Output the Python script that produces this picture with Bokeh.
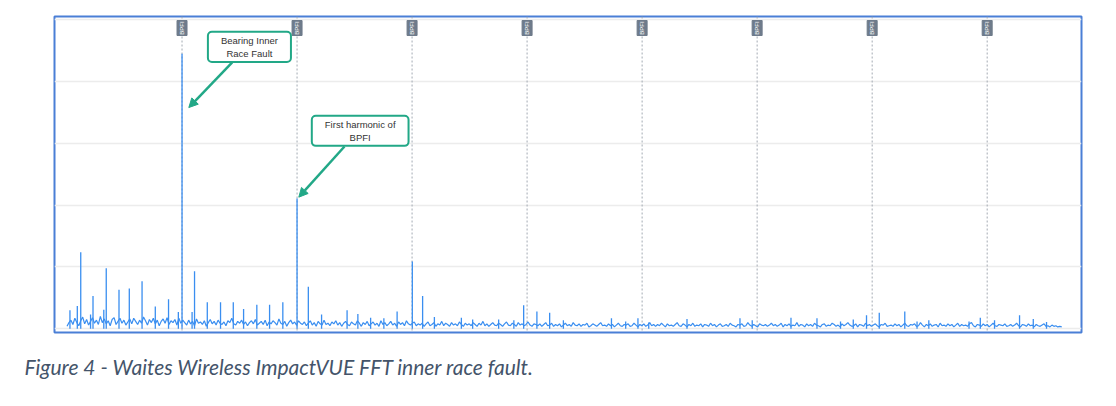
import numpy as np
from bokeh.plotting import figure
from bokeh.models import (Range1d, Grid, FixedTicker, Span, Label, Arrow,
                          NormalHead, Title)
from bokeh.embed import file_html
from bokeh.resources import INLINE

# ---------------- data ----------------
BPFI_HZ = 234.5
harmonic_orders = [1, 2, 3, 4, 5, 6, 7, 8]
marker_label = "BPFI"

noise_step_hz = 4
# noise floor, hundredths of a unit, every 4 Hz
noise_0 = [4, 10, 14, 7, 17, 10, 5, 13, 19, 8, 15, 6, 12, 18, 9, 14, 7, 20, 10, 16, 8, 13, 5, 15, 18, 7, 12, 17, 9, 14,
           6, 11, 16, 8, 17, 12, 7, 14, 9, 19, 13, 6, 15, 10, 17, 8, 14, 5, 12, 16, 9, 18, 7, 13, 10, 15, 6, 17, 9, 14]
noise_1 = [10, 6, 14, 8, 12, 5, 16, 9, 11, 7, 13, 4, 10, 15, 8, 12, 6, 14, 9, 7, 11, 5, 13, 10, 17, 8, 6, 12, 9, 14,
           7, 11, 5, 10, 13, 8, 15, 6, 9, 12, 7, 14, 5, 11, 8, 13, 10, 6, 16, 9, 7, 12, 4, 10, 14, 8, 11, 6, 13, 9]
noise_2 = [7, 11, 5, 9, 13, 6, 10, 4, 12, 8, 6, 14, 7, 9, 5, 11, 8, 13, 6, 10, 4, 9, 12, 7, 5, 11, 8, 6, 13, 9,
           4, 10, 7, 12, 5, 8, 11, 6, 9, 4, 13, 7, 10, 5, 8, 12, 6, 9, 4, 11, 7, 10, 5, 13, 8, 6, 9, 11, 5, 8]
noise_3 = [6, 9, 4, 8, 11, 5, 7, 10, 4, 8, 6, 12, 5, 9, 7, 4, 10, 6, 8, 5, 11, 7, 4, 9, 6, 8, 5, 10, 7, 4,
           9, 6, 12, 5, 8, 4, 7, 10, 6, 5, 9, 7, 4, 8, 11, 6, 5, 9, 7, 4, 10, 6, 8, 5, 7, 11, 6, 4, 8, 7]
noise_4 = [5, 8, 4, 7, 10, 5, 6, 9, 4, 7, 5, 8, 3, 6, 9, 5, 7, 4, 10, 6, 5, 8, 4, 7, 6, 9, 3, 5, 8, 6,
           4, 7, 10, 5, 6, 4, 8, 5, 7, 3, 6, 9, 5, 4, 7, 6, 8, 4, 5, 9, 6, 3, 7, 5, 8, 4, 6, 10, 5, 7]
noise_5 = [4, 7, 5, 9, 6, 3, 8, 5, 6, 4, 7, 10, 5, 4, 8, 6, 3, 7, 5, 9, 4, 6, 5, 8, 3, 7, 6, 4, 9, 5,
           7, 3, 6, 8, 4, 5, 7, 4, 9, 6, 5, 3, 7, 6, 8, 4, 5, 10, 6, 4, 7, 5, 3, 8, 6, 5, 7, 4, 6, 9]
noise_6 = [5, 7, 4, 6, 9, 3, 7, 5, 8, 4, 6, 5, 10, 4, 7, 6, 3, 8, 5, 7, 4, 9, 6, 5, 3, 7, 8, 4, 6, 5,
           9, 7, 4, 6, 3, 8, 5, 7, 10, 6, 4, 5, 8, 3, 7, 6, 4, 9, 5, 7, 4, 6, 8, 5, 3, 7, 6, 9, 4, 5]
noise_7 = [6, 4, 8, 5, 7, 3, 6, 9, 5, 4, 7, 6, 8, 4, 5, 10, 6, 3, 7, 5, 8, 4, 6, 7, 3, 9, 5, 6, 4, 8,
           5, 7, 3, 6, 9, 4, 7, 5, 6, 4, 8, 10, 5, 3, 7, 6, 4, 8, 5, 7, 3, 6, 9, 5, 4, 7, 6, 5, 8, 4]
noise_8 = [5, 7, 4, 6, 9, 5, 3, 7, 6, 4, 8, 5, 6, 3, 7, 5, 4, 6, 8, 4, 5, 3, 6, 4, 5, 3, 4, 3]

peak_freqs = [6, 21, 28, 48, 53, 75, 80, 106, 127, 153, 180, 207, 227, 234.5, 255,
              260, 286, 313, 339, 360, 387, 413, 440, 469, 492, 519, 571, 593, 619, 646,
              673, 704, 725, 749, 804, 827, 880, 911, 931, 958, 984, 1012, 1110, 1139, 1164,
              1186, 1264, 1372, 1397, 1476, 1529, 1577, 1603, 1630, 1656, 1708, 1733, 1757,
              1839, 1862, 1891, 1942, 1970, 1997]
peak_amps = [0.30, 0.37, 1.24, 0.23, 0.53, 0.31, 0.98, 0.63, 0.65, 0.77, 0.36, 0.48, 0.27, 4.45, 0.27,
             0.93, 0.43, 0.43, 0.43, 0.32, 0.39, 0.39, 0.43, 2.11, 0.68, 0.23, 0.30, 0.24, 0.18, 0.17,
             0.28, 1.09, 0.53, 0.19, 0.18, 0.15, 0.15, 0.14, 0.38, 0.28, 0.26, 0.14, 0.17, 0.12, 0.17,
             0.10, 0.16, 0.17, 0.14, 0.18, 0.17, 0.12, 0.15, 0.22, 0.26, 0.28, 0.12, 0.14,
             0.12, 0.18, 0.14, 0.22, 0.16, 0.11]

grid_levels = [0, 1, 2, 3, 4, 5]

note1_text = "Bearing Inner\nRace Fault"
note2_text = "First harmonic of\nBPFI"
caption = "Figure 4 - Waites Wireless ImpactVUE FFT inner race fault."

# ---------------- build ----------------
noise = np.array(noise_0 + noise_1 + noise_2 + noise_3 + noise_4 + noise_5 + noise_6 + noise_7 + noise_8) / 100.0
noise_x = np.arange(len(noise)) * noise_step_hz

SPEC = "#3a8ef0"
TEAL = "#22a887"
X0, X1 = -25.5, 2068.3
Y0, Y1 = -0.06, 5.053
FW, FH = 1027, 316

p = figure(frame_width=FW, frame_height=FH, min_border_left=54, min_border_right=19,
           min_border_top=16, min_border_bottom=70,
           x_range=Range1d(X0, X1), y_range=Range1d(Y0, Y1),
           x_axis_type=None, y_axis_type=None,
           output_backend="svg", toolbar_location=None,
           background_fill_color="white", border_fill_color="white")
p.outline_line_color = "#4a7fd6"
p.outline_line_width = 2

grid = Grid(dimension=1, ticker=FixedTicker(ticks=grid_levels),
            grid_line_color="#ececec", grid_line_width=1.5)
p.add_layout(grid)

for k in harmonic_orders:
    p.add_layout(Span(location=k * BPFI_HZ, dimension="height", line_color="#a3aab3",
                      line_dash="2 2", line_width=1, level="underlay"))

p.line(noise_x, noise, line_color=SPEC, line_width=1.2)
p.segment(x0=peak_freqs, y0=[0] * len(peak_freqs), x1=peak_freqs, y1=peak_amps,
          line_color=SPEC, line_width=1.3)

# marker tags at the top
px_per_unit = FH / (Y1 - Y0)
tag_y = Y1 - 11.5 / px_per_unit
mx = [k * BPFI_HZ for k in harmonic_orders]
p.rect(x=mx, y=[tag_y] * len(mx), width=10, height=15, width_units="screen",
       height_units="screen", fill_color="#6e7b8b", line_color="#6e7b8b")
p.text(x=mx, y=[tag_y] * len(mx), text=[marker_label] * len(mx), angle=np.pi / 2,
       text_align="center", text_baseline="middle", text_font_size="6px",
       text_color="white")

# callouts
for (tx, ty, txt, sx, sy, ex, ey) in [
        (371.9, 4.563, note1_text, 336.8, 4.31, 248.3, 3.58),
        (597.7, 3.204, note2_text, 565.7, 2.95, 472.6, 2.13)]:
    p.add_layout(Arrow(end=NormalHead(size=9, fill_color=TEAL, line_color=TEAL),
                       x_start=sx, y_start=sy, x_end=ex, y_end=ey,
                       line_color=TEAL, line_width=2.5))
    p.add_layout(Label(x=tx, y=ty, text=txt, text_align="center", text_baseline="middle",
                       text_font="Liberation Sans", text_font_size="9.5px", text_color="#333333",
                       background_fill_color="white", border_line_color=TEAL,
                       border_line_width=2, border_radius=4, padding=(13, 3)))

p.add_layout(Title(text=caption, align="left", offset=-30, standoff=39,
                   text_font="Lato", text_font_style="italic", text_font_size="21px",
                   text_color="#44546a"), "below")

open("out.html", "w").write(file_html(p, INLINE))
